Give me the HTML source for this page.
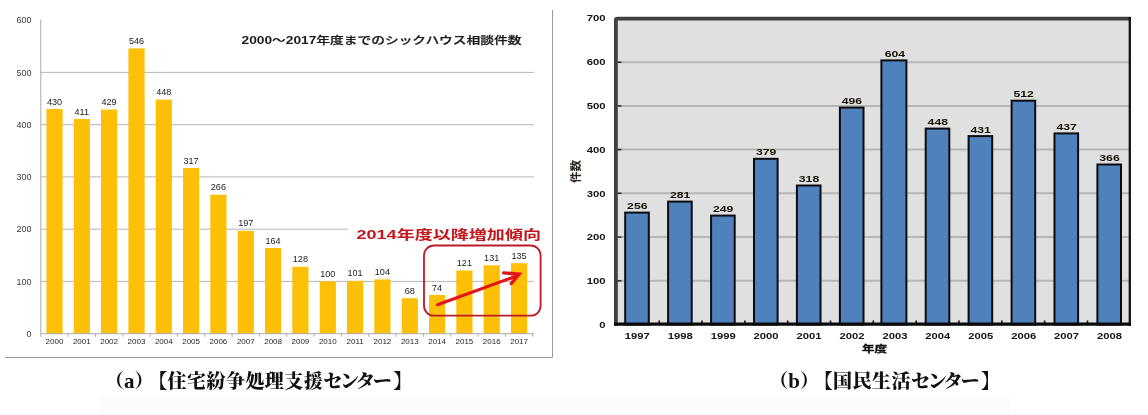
<!DOCTYPE html>
<html lang="ja"><head><meta charset="utf-8"><title>シックハウス相談件数</title>
<style>
html,body{margin:0;padding:0;background:#fff;}
body{width:1148px;height:415px;overflow:hidden;position:relative;font-family:"Liberation Sans","Noto Sans CJK JP",sans-serif;}
svg{position:absolute;left:0;top:0;display:block;filter:blur(0.45px)}
.cap{position:absolute;white-space:nowrap;font-family:"Liberation Serif","Noto Serif CJK SC",serif;font-weight:900;font-size:19px;line-height:24px;text-spacing-trim:space-all;color:#111;transform-origin:0 50%;filter:blur(0.3px)}
.cap .l{font-size:21px;line-height:20px}.cap .k{margin-left:-5.4px;letter-spacing:0.45px}.cap .n{letter-spacing:-2.2px}.cap .e{margin-left:1.5px}
.t{font-family:"Liberation Sans","Noto Sans CJK JP",sans-serif}
</style></head><body>
<svg width="1148" height="415" viewBox="0 0 1148 415">
<rect x="100" y="396" width="910" height="20" fill="#fcfcfc"/>
<g class="t">
<path d="M552.5 10V357.5H5" fill="none" stroke="#9a9a9a" stroke-width="1"/>
<line x1="40.8" x2="534" y1="281.4" y2="281.4" stroke="#b6b6b6" stroke-width="1"/>
<line x1="40.8" x2="534" y1="229.2" y2="229.2" stroke="#b6b6b6" stroke-width="1"/>
<line x1="40.8" x2="534" y1="176.9" y2="176.9" stroke="#b6b6b6" stroke-width="1"/>
<line x1="40.8" x2="534" y1="124.7" y2="124.7" stroke="#b6b6b6" stroke-width="1"/>
<line x1="40.8" x2="534" y1="72.4" y2="72.4" stroke="#b6b6b6" stroke-width="1"/>
<text x="31.5" y="336.9" font-size="9" fill="#3a3a3a" text-anchor="end">0</text>
<text x="31.5" y="284.6" font-size="9" fill="#3a3a3a" text-anchor="end">100</text>
<text x="31.5" y="232.4" font-size="9" fill="#3a3a3a" text-anchor="end">200</text>
<text x="31.5" y="180.1" font-size="9" fill="#3a3a3a" text-anchor="end">300</text>
<text x="31.5" y="127.9" font-size="9" fill="#3a3a3a" text-anchor="end">400</text>
<text x="31.5" y="75.6" font-size="9" fill="#3a3a3a" text-anchor="end">500</text>
<text x="31.5" y="23.4" font-size="9" fill="#3a3a3a" text-anchor="end">600</text>
<rect x="46.4" y="109.0" width="16.2" height="224.7" fill="#fdc007"/>
<rect x="73.7" y="119.0" width="16.2" height="214.7" fill="#fdc007"/>
<rect x="101.0" y="109.5" width="16.2" height="224.2" fill="#fdc007"/>
<rect x="128.4" y="48.4" width="16.2" height="285.3" fill="#fdc007"/>
<rect x="155.7" y="99.6" width="16.2" height="234.1" fill="#fdc007"/>
<rect x="183.0" y="168.1" width="16.2" height="165.6" fill="#fdc007"/>
<rect x="210.3" y="194.7" width="16.2" height="139.0" fill="#fdc007"/>
<rect x="237.7" y="230.8" width="16.2" height="102.9" fill="#fdc007"/>
<rect x="265.0" y="248.0" width="16.2" height="85.7" fill="#fdc007"/>
<rect x="292.3" y="266.8" width="16.2" height="66.9" fill="#fdc007"/>
<rect x="319.7" y="281.4" width="16.2" height="52.2" fill="#fdc007"/>
<rect x="347.0" y="280.9" width="16.2" height="52.8" fill="#fdc007"/>
<rect x="374.3" y="279.4" width="16.2" height="54.3" fill="#fdc007"/>
<rect x="401.7" y="298.2" width="16.2" height="35.5" fill="#fdc007"/>
<rect x="429.0" y="295.0" width="16.2" height="38.7" fill="#fdc007"/>
<rect x="456.3" y="270.5" width="16.2" height="63.2" fill="#fdc007"/>
<rect x="483.6" y="265.3" width="16.2" height="68.4" fill="#fdc007"/>
<rect x="511.0" y="263.2" width="16.2" height="70.5" fill="#fdc007"/>
<text x="54.5" y="104.5" font-size="9.1" fill="#222" text-anchor="middle">430</text>
<text x="54.5" y="343.7" font-size="8" fill="#262626" text-anchor="middle">2000</text>
<text x="81.8" y="114.5" font-size="9.1" fill="#222" text-anchor="middle">411</text>
<text x="81.8" y="343.7" font-size="8" fill="#262626" text-anchor="middle">2001</text>
<text x="109.1" y="105.0" font-size="9.1" fill="#222" text-anchor="middle">429</text>
<text x="109.1" y="343.7" font-size="8" fill="#262626" text-anchor="middle">2002</text>
<text x="136.5" y="43.9" font-size="9.1" fill="#222" text-anchor="middle">546</text>
<text x="136.5" y="343.7" font-size="8" fill="#262626" text-anchor="middle">2003</text>
<text x="163.8" y="95.1" font-size="9.1" fill="#222" text-anchor="middle">448</text>
<text x="163.8" y="343.7" font-size="8" fill="#262626" text-anchor="middle">2004</text>
<text x="191.1" y="163.6" font-size="9.1" fill="#222" text-anchor="middle">317</text>
<text x="191.1" y="343.7" font-size="8" fill="#262626" text-anchor="middle">2005</text>
<text x="218.4" y="190.2" font-size="9.1" fill="#222" text-anchor="middle">266</text>
<text x="218.4" y="343.7" font-size="8" fill="#262626" text-anchor="middle">2006</text>
<text x="245.8" y="226.3" font-size="9.1" fill="#222" text-anchor="middle">197</text>
<text x="245.8" y="343.7" font-size="8" fill="#262626" text-anchor="middle">2007</text>
<text x="273.1" y="243.5" font-size="9.1" fill="#222" text-anchor="middle">164</text>
<text x="273.1" y="343.7" font-size="8" fill="#262626" text-anchor="middle">2008</text>
<text x="300.4" y="262.3" font-size="9.1" fill="#222" text-anchor="middle">128</text>
<text x="300.4" y="343.7" font-size="8" fill="#262626" text-anchor="middle">2009</text>
<text x="327.8" y="276.9" font-size="9.1" fill="#222" text-anchor="middle">100</text>
<text x="327.8" y="343.7" font-size="8" fill="#262626" text-anchor="middle">2010</text>
<text x="355.1" y="276.4" font-size="9.1" fill="#222" text-anchor="middle">101</text>
<text x="355.1" y="343.7" font-size="8" fill="#262626" text-anchor="middle">2011</text>
<text x="382.4" y="274.9" font-size="9.1" fill="#222" text-anchor="middle">104</text>
<text x="382.4" y="343.7" font-size="8" fill="#262626" text-anchor="middle">2012</text>
<text x="409.8" y="293.7" font-size="9.1" fill="#222" text-anchor="middle">68</text>
<text x="409.8" y="343.7" font-size="8" fill="#262626" text-anchor="middle">2013</text>
<text x="437.1" y="290.5" font-size="9.1" fill="#222" text-anchor="middle">74</text>
<text x="437.1" y="343.7" font-size="8" fill="#262626" text-anchor="middle">2014</text>
<text x="464.4" y="266.0" font-size="9.1" fill="#222" text-anchor="middle">121</text>
<text x="464.4" y="343.7" font-size="8" fill="#262626" text-anchor="middle">2015</text>
<text x="491.7" y="260.8" font-size="9.1" fill="#222" text-anchor="middle">131</text>
<text x="491.7" y="343.7" font-size="8" fill="#262626" text-anchor="middle">2016</text>
<text x="519.1" y="258.7" font-size="9.1" fill="#222" text-anchor="middle">135</text>
<text x="519.1" y="343.7" font-size="8" fill="#262626" text-anchor="middle">2017</text>
<line x1="40.8" x2="40.8" y1="19.5" y2="336.7" stroke="#aaa" stroke-width="1"/>
<line x1="40.8" x2="534" y1="333.7" y2="333.7" stroke="#aaa" stroke-width="1"/>
<line x1="68.1" x2="68.1" y1="333.7" y2="336.7" stroke="#aaa" stroke-width="1"/>
<line x1="95.5" x2="95.5" y1="333.7" y2="336.7" stroke="#aaa" stroke-width="1"/>
<line x1="122.8" x2="122.8" y1="333.7" y2="336.7" stroke="#aaa" stroke-width="1"/>
<line x1="150.1" x2="150.1" y1="333.7" y2="336.7" stroke="#aaa" stroke-width="1"/>
<line x1="177.4" x2="177.4" y1="333.7" y2="336.7" stroke="#aaa" stroke-width="1"/>
<line x1="204.8" x2="204.8" y1="333.7" y2="336.7" stroke="#aaa" stroke-width="1"/>
<line x1="232.1" x2="232.1" y1="333.7" y2="336.7" stroke="#aaa" stroke-width="1"/>
<line x1="259.4" x2="259.4" y1="333.7" y2="336.7" stroke="#aaa" stroke-width="1"/>
<line x1="286.8" x2="286.8" y1="333.7" y2="336.7" stroke="#aaa" stroke-width="1"/>
<line x1="314.1" x2="314.1" y1="333.7" y2="336.7" stroke="#aaa" stroke-width="1"/>
<line x1="341.4" x2="341.4" y1="333.7" y2="336.7" stroke="#aaa" stroke-width="1"/>
<line x1="368.8" x2="368.8" y1="333.7" y2="336.7" stroke="#aaa" stroke-width="1"/>
<line x1="396.1" x2="396.1" y1="333.7" y2="336.7" stroke="#aaa" stroke-width="1"/>
<line x1="423.4" x2="423.4" y1="333.7" y2="336.7" stroke="#aaa" stroke-width="1"/>
<line x1="450.8" x2="450.8" y1="333.7" y2="336.7" stroke="#aaa" stroke-width="1"/>
<line x1="478.1" x2="478.1" y1="333.7" y2="336.7" stroke="#aaa" stroke-width="1"/>
<line x1="505.4" x2="505.4" y1="333.7" y2="336.7" stroke="#aaa" stroke-width="1"/>
<line x1="532.7" x2="532.7" y1="333.7" y2="336.7" stroke="#aaa" stroke-width="1"/>
<text x="241.5" y="43.5" font-size="10.5" font-weight="700" fill="#1a1a1a" textLength="280" lengthAdjust="spacingAndGlyphs">2000～2017<tspan font-weight="500" stroke="#1a1a1a" stroke-width="0.25">年度までのシックハウス相談件数</tspan></text>
<rect x="348" y="221" width="198" height="21.5" fill="#fff"/>
<text x="356.5" y="238.7" font-size="12.8" font-weight="700" fill="#c4161c" textLength="184.5" lengthAdjust="spacingAndGlyphs">2014年度以降増加傾向</text>
<rect x="424" y="245.5" width="116.6" height="70.2" rx="10" ry="10" fill="none" stroke="#b81c28" stroke-width="1.8"/>
<path d="M437.5 304.8L516.5 276" fill="none" stroke="#e3141b" stroke-width="3.1" stroke-linecap="round"/>
<path d="M503.6 272.8L519.2 274.2L511.2 283.6" fill="none" stroke="#e3141b" stroke-width="3.3" stroke-linecap="round" stroke-linejoin="miter"/>
</g>
<g class="t">
<rect x="615.9" y="18.6" width="513.9" height="305.9" fill="#e0e0e0"/>
<line x1="615.9" x2="1129.8" y1="280.8" y2="280.8" stroke="#b6b6b6" stroke-width="2"/>
<line x1="615.9" x2="621.4" y1="280.8" y2="280.8" stroke="#2a2a2a" stroke-width="1.5"/>
<line x1="615.9" x2="1129.8" y1="237.1" y2="237.1" stroke="#b6b6b6" stroke-width="2"/>
<line x1="615.9" x2="621.4" y1="237.1" y2="237.1" stroke="#2a2a2a" stroke-width="1.5"/>
<line x1="615.9" x2="1129.8" y1="193.3" y2="193.3" stroke="#b6b6b6" stroke-width="2"/>
<line x1="615.9" x2="621.4" y1="193.3" y2="193.3" stroke="#2a2a2a" stroke-width="1.5"/>
<line x1="615.9" x2="1129.8" y1="149.6" y2="149.6" stroke="#b6b6b6" stroke-width="2"/>
<line x1="615.9" x2="621.4" y1="149.6" y2="149.6" stroke="#2a2a2a" stroke-width="1.5"/>
<line x1="615.9" x2="1129.8" y1="105.9" y2="105.9" stroke="#b6b6b6" stroke-width="2"/>
<line x1="615.9" x2="621.4" y1="105.9" y2="105.9" stroke="#2a2a2a" stroke-width="1.5"/>
<line x1="615.9" x2="1129.8" y1="62.2" y2="62.2" stroke="#b6b6b6" stroke-width="2"/>
<line x1="615.9" x2="621.4" y1="62.2" y2="62.2" stroke="#2a2a2a" stroke-width="1.5"/>
<text x="599.3" y="327.7" font-size="9.6" font-weight="700" fill="#161616" textLength="6.3" lengthAdjust="spacingAndGlyphs">0</text>
<text x="586.7" y="284.0" font-size="9.6" font-weight="700" fill="#161616" textLength="18.9" lengthAdjust="spacingAndGlyphs">100</text>
<text x="586.7" y="240.3" font-size="9.6" font-weight="700" fill="#161616" textLength="18.9" lengthAdjust="spacingAndGlyphs">200</text>
<text x="586.7" y="196.5" font-size="9.6" font-weight="700" fill="#161616" textLength="18.9" lengthAdjust="spacingAndGlyphs">300</text>
<text x="586.7" y="152.8" font-size="9.6" font-weight="700" fill="#161616" textLength="18.9" lengthAdjust="spacingAndGlyphs">400</text>
<text x="586.7" y="109.1" font-size="9.6" font-weight="700" fill="#161616" textLength="18.9" lengthAdjust="spacingAndGlyphs">500</text>
<text x="586.7" y="65.4" font-size="9.6" font-weight="700" fill="#161616" textLength="18.9" lengthAdjust="spacingAndGlyphs">600</text>
<text x="586.7" y="20.7" font-size="9.6" font-weight="700" fill="#161616" textLength="18.9" lengthAdjust="spacingAndGlyphs">700</text>
<rect x="625.2" y="212.6" width="23.6" height="111.9" fill="#4f81bd" stroke="#0b0b10" stroke-width="2"/>
<text x="627.1" y="209.2" font-size="9.6" font-weight="700" fill="#1a1408" textLength="20.4" lengthAdjust="spacingAndGlyphs">256</text>
<text x="624.8" y="339.1" font-size="9.6" font-weight="700" fill="#161616" textLength="25.0" lengthAdjust="spacingAndGlyphs">1997</text>
<rect x="668.1" y="201.6" width="23.6" height="122.9" fill="#4f81bd" stroke="#0b0b10" stroke-width="2"/>
<text x="670.0" y="198.2" font-size="9.6" font-weight="700" fill="#1a1408" textLength="20.4" lengthAdjust="spacingAndGlyphs">281</text>
<text x="667.7" y="339.1" font-size="9.6" font-weight="700" fill="#161616" textLength="25.0" lengthAdjust="spacingAndGlyphs">1998</text>
<rect x="711.1" y="215.6" width="23.6" height="108.9" fill="#4f81bd" stroke="#0b0b10" stroke-width="2"/>
<text x="713.0" y="212.2" font-size="9.6" font-weight="700" fill="#1a1408" textLength="20.4" lengthAdjust="spacingAndGlyphs">249</text>
<text x="710.7" y="339.1" font-size="9.6" font-weight="700" fill="#161616" textLength="25.0" lengthAdjust="spacingAndGlyphs">1999</text>
<rect x="754.0" y="158.8" width="23.6" height="165.7" fill="#4f81bd" stroke="#0b0b10" stroke-width="2"/>
<text x="755.9" y="155.4" font-size="9.6" font-weight="700" fill="#1a1408" textLength="20.4" lengthAdjust="spacingAndGlyphs">379</text>
<text x="753.6" y="339.1" font-size="9.6" font-weight="700" fill="#161616" textLength="25.0" lengthAdjust="spacingAndGlyphs">2000</text>
<rect x="796.9" y="185.5" width="23.6" height="139.0" fill="#4f81bd" stroke="#0b0b10" stroke-width="2"/>
<text x="798.8" y="182.1" font-size="9.6" font-weight="700" fill="#1a1408" textLength="20.4" lengthAdjust="spacingAndGlyphs">318</text>
<text x="796.5" y="339.1" font-size="9.6" font-weight="700" fill="#161616" textLength="25.0" lengthAdjust="spacingAndGlyphs">2001</text>
<rect x="839.9" y="107.6" width="23.6" height="216.9" fill="#4f81bd" stroke="#0b0b10" stroke-width="2"/>
<text x="841.7" y="104.2" font-size="9.6" font-weight="700" fill="#1a1408" textLength="20.4" lengthAdjust="spacingAndGlyphs">496</text>
<text x="839.4" y="339.1" font-size="9.6" font-weight="700" fill="#161616" textLength="25.0" lengthAdjust="spacingAndGlyphs">2002</text>
<rect x="881.4" y="60.4" width="25.0" height="264.1" fill="#4f81bd" stroke="#0b0b10" stroke-width="2"/>
<text x="884.7" y="57.0" font-size="9.6" font-weight="700" fill="#1a1408" textLength="20.4" lengthAdjust="spacingAndGlyphs">604</text>
<text x="882.4" y="339.1" font-size="9.6" font-weight="700" fill="#161616" textLength="25.0" lengthAdjust="spacingAndGlyphs">2003</text>
<rect x="925.7" y="128.6" width="23.6" height="195.9" fill="#4f81bd" stroke="#0b0b10" stroke-width="2"/>
<text x="927.6" y="125.2" font-size="9.6" font-weight="700" fill="#1a1408" textLength="20.4" lengthAdjust="spacingAndGlyphs">448</text>
<text x="925.3" y="339.1" font-size="9.6" font-weight="700" fill="#161616" textLength="25.0" lengthAdjust="spacingAndGlyphs">2004</text>
<rect x="968.6" y="136.1" width="23.6" height="188.4" fill="#4f81bd" stroke="#0b0b10" stroke-width="2"/>
<text x="970.5" y="132.7" font-size="9.6" font-weight="700" fill="#1a1408" textLength="20.4" lengthAdjust="spacingAndGlyphs">431</text>
<text x="968.2" y="339.1" font-size="9.6" font-weight="700" fill="#161616" textLength="25.0" lengthAdjust="spacingAndGlyphs">2005</text>
<rect x="1011.6" y="100.7" width="23.6" height="223.8" fill="#4f81bd" stroke="#0b0b10" stroke-width="2"/>
<text x="1013.5" y="97.3" font-size="9.6" font-weight="700" fill="#1a1408" textLength="20.4" lengthAdjust="spacingAndGlyphs">512</text>
<text x="1011.2" y="339.1" font-size="9.6" font-weight="700" fill="#161616" textLength="25.0" lengthAdjust="spacingAndGlyphs">2006</text>
<rect x="1054.5" y="133.4" width="23.6" height="191.1" fill="#4f81bd" stroke="#0b0b10" stroke-width="2"/>
<text x="1056.4" y="130.0" font-size="9.6" font-weight="700" fill="#1a1408" textLength="20.4" lengthAdjust="spacingAndGlyphs">437</text>
<text x="1054.1" y="339.1" font-size="9.6" font-weight="700" fill="#161616" textLength="25.0" lengthAdjust="spacingAndGlyphs">2007</text>
<rect x="1097.4" y="164.5" width="23.6" height="160.0" fill="#4f81bd" stroke="#0b0b10" stroke-width="2"/>
<text x="1099.3" y="161.1" font-size="9.6" font-weight="700" fill="#1a1408" textLength="20.4" lengthAdjust="spacingAndGlyphs">366</text>
<text x="1097.0" y="339.1" font-size="9.6" font-weight="700" fill="#161616" textLength="25.0" lengthAdjust="spacingAndGlyphs">2008</text>
<line x1="659.2" x2="659.2" y1="320.5" y2="324.5" stroke="#111" stroke-width="1.6"/>
<line x1="702.0" x2="702.0" y1="320.5" y2="324.5" stroke="#111" stroke-width="1.6"/>
<line x1="744.9" x2="744.9" y1="320.5" y2="324.5" stroke="#111" stroke-width="1.6"/>
<line x1="787.7" x2="787.7" y1="320.5" y2="324.5" stroke="#111" stroke-width="1.6"/>
<line x1="830.5" x2="830.5" y1="320.5" y2="324.5" stroke="#111" stroke-width="1.6"/>
<line x1="873.3" x2="873.3" y1="320.5" y2="324.5" stroke="#111" stroke-width="1.6"/>
<line x1="916.2" x2="916.2" y1="320.5" y2="324.5" stroke="#111" stroke-width="1.6"/>
<line x1="959.0" x2="959.0" y1="320.5" y2="324.5" stroke="#111" stroke-width="1.6"/>
<line x1="1001.8" x2="1001.8" y1="320.5" y2="324.5" stroke="#111" stroke-width="1.6"/>
<line x1="1044.6" x2="1044.6" y1="320.5" y2="324.5" stroke="#111" stroke-width="1.6"/>
<line x1="1087.5" x2="1087.5" y1="320.5" y2="324.5" stroke="#111" stroke-width="1.6"/>
<path d="M615.9 325.8V20.1Q615.9 18.6 617.4 18.6H1130.8" fill="none" stroke="#404040" stroke-width="3.8"/>
<line x1="1129.8" x2="1129.8" y1="17.0" y2="325.9" stroke="#111" stroke-width="2.3"/>
<line x1="614.0" x2="1130.95" y1="324.2" y2="324.2" stroke="#0a0a0a" stroke-width="3.2"/>
<text x="862" y="351.8" font-size="9.5" font-weight="700" fill="#101010" stroke="#101010" stroke-width="0.35" textLength="25" lengthAdjust="spacingAndGlyphs">年度</text>
<text transform="translate(579.8 183) rotate(-90)" font-size="11.5" font-weight="700" fill="#2a2420" textLength="23" lengthAdjust="spacingAndGlyphs">件数</text>
</g>
</svg>
<div class="cap" id="capa" style="left:105px;top:370px;">（<span class="l">a</span>）<span class="k">【住宅紛争処理支援</span><span class="n">センタ</span>ー<span class="e">】</span></div>
<div class="cap" id="capb" style="left:769.3px;top:370px;">（<span class="l">b</span>）<span class="k">【国民生活</span><span class="n">センタ</span>ー<span class="e">】</span></div>
</body></html>
